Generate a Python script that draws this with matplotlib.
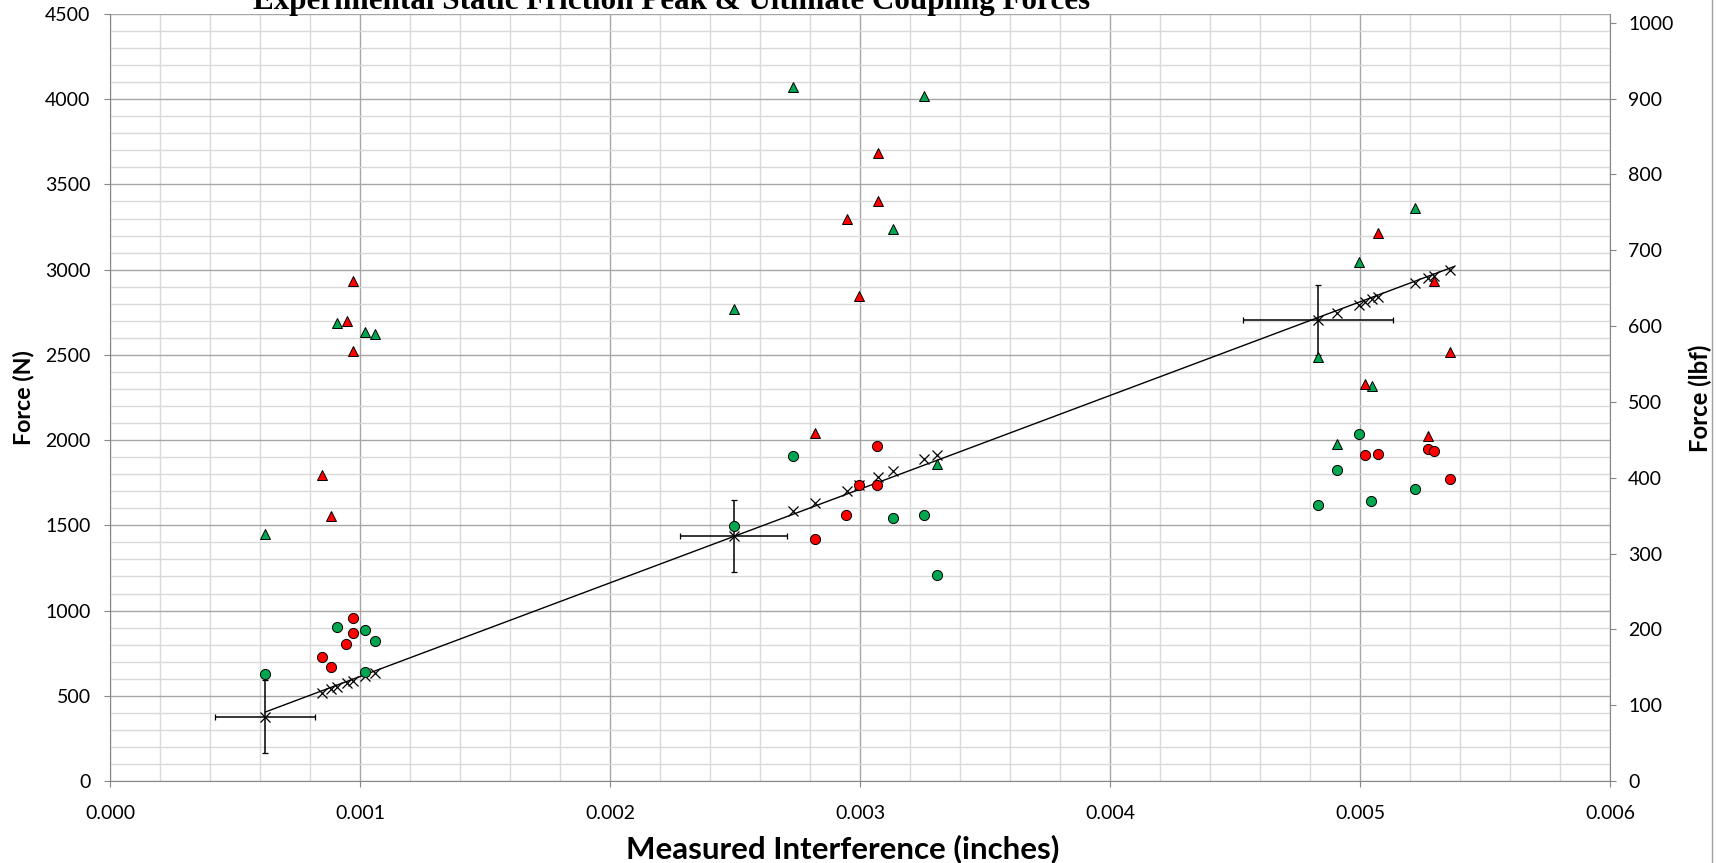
import matplotlib
matplotlib.use("Agg")
import matplotlib.pyplot as plt
import numpy as np
from matplotlib.ticker import MultipleLocator, FormatStrFormatter
from matplotlib.lines import Line2D

# Peak friction (triangles) and ultimate coupling (circles), two test series
green_tri_x = [0.000621, 0.000908, 0.001021, 0.001059,
               0.002495, 0.002733, 0.003132, 0.003257, 0.003307,
               0.004833, 0.004908, 0.004995, 0.005047, 0.005219]
green_tri_y = [1450, 2686, 2637, 2623,
               2770, 4074, 3239, 4016, 1859,
               2488, 1976, 3044, 2318, 3359]

red_tri_x = [0.000848, 0.000884, 0.000947, 0.000971, 0.000971,
             0.002821, 0.002947, 0.002997, 0.003071, 0.003071,
             0.005021, 0.005072, 0.005272, 0.005297, 0.005359]
red_tri_y = [1796, 1557, 2700, 2936, 2523,
             2044, 3297, 2848, 3687, 3404,
             2330, 3214, 2023, 2936, 2518]

green_circ_x = [0.000621, 0.000908, 0.001021, 0.001059, 0.001021,
                0.002495, 0.002733, 0.003132, 0.003257, 0.003307,
                0.004833, 0.004909, 0.004996, 0.005045, 0.005220]
green_circ_y = [626, 902, 886, 822, 641,
                1494, 1904, 1545, 1560, 1209,
                1618, 1827, 2036, 1641, 1712]

red_circ_x = [0.000847, 0.000884, 0.000944, 0.000971, 0.000971,
              0.002821, 0.002944, 0.002997, 0.003069, 0.003069,
              0.005021, 0.005072, 0.005272, 0.005297, 0.005359]
red_circ_y = [728, 671, 806, 958, 868,
              1420, 1560, 1735, 1966, 1735,
              1911, 1917, 1950, 1937, 1774]

# predicted force at each interference (x markers on the fit line)
pred_x = [0.000848, 0.000884, 0.000908, 0.000947, 0.000971, 0.001021, 0.001059,
          0.002733, 0.002821, 0.002947, 0.002997, 0.003071, 0.003132, 0.003257, 0.003307,
          0.004908, 0.004995, 0.005021, 0.005047, 0.005072, 0.005219, 0.005272, 0.005297, 0.005359]
pred_y = [515, 538, 550, 573, 587, 616, 636,
          1587, 1632, 1704, 1735, 1786, 1817, 1889, 1910,
          2748, 2793, 2809, 2827, 2842, 2921, 2954, 2964, 2999]

# group means with error bars
mean_x = [0.000621, 0.002495, 0.004833]
mean_y = [377, 1436, 2705]
mean_xerr = [0.0002, 0.000214, 0.0003]
mean_yerr = [215, 210, 205]

N_PER_LBF = 4.448

green = "#00A650"
red = "#FF0000"
grid_major = "#a6a6a6"
grid_minor = "#d9d9d9"
tick_font = "Lato"

fig = plt.figure(figsize=(17.16, 8.63), dpi=100)
ax = fig.add_axes([110 / 1716, 1 - 781 / 863, 1500 / 1716, 767 / 863])

ax.set_xlim(0, 0.006)
ax.set_ylim(0, 4500)
ax.xaxis.set_major_locator(MultipleLocator(0.001))
ax.xaxis.set_minor_locator(MultipleLocator(0.0002))
ax.xaxis.set_major_formatter(FormatStrFormatter("%.3f"))
ax.yaxis.set_major_locator(MultipleLocator(500))
ax.yaxis.set_minor_locator(MultipleLocator(100))
ax.grid(which="major", color=grid_major, lw=1)
ax.grid(which="minor", color=grid_minor, lw=1)
ax.set_axisbelow(True)

# fit line through the predicted values
all_px = mean_x + pred_x
all_py = mean_y + pred_y
k, b = np.polyfit(all_px, all_py, 1)
xl = np.array([min(all_px), max(all_px) + 0.000015])
ax.plot(xl, k * xl + b, color="black", lw=1, zorder=2)

ax.errorbar(mean_x, mean_y, xerr=mean_xerr, yerr=mean_yerr, fmt="x", color="black",
            ms=7, mew=0.9, elinewidth=1.1, capsize=2.5, capthick=1, zorder=3)
ax.plot(pred_x, pred_y, "x", color="black", ms=6.5, mew=0.9, zorder=3)

ax.plot(green_tri_x, green_tri_y, "^", color=green, mec="black", mew=0.7, ms=7, ls="none", zorder=4)
ax.plot(red_tri_x, red_tri_y, "^", color=red, mec="black", mew=0.7, ms=7, ls="none", zorder=4)
ax.plot(green_circ_x, green_circ_y, "o", color=green, mec="black", mew=0.7, ms=7.3, ls="none", zorder=4)
ax.plot(red_circ_x, red_circ_y, "o", color=red, mec="black", mew=0.7, ms=7.3, ls="none", zorder=4)

for s in ["top", "right"]:
    ax.spines[s].set_visible(False)
for s in ["left", "bottom"]:
    ax.spines[s].set_color("#868686")
ax.tick_params(which="major", axis="y", direction="out", length=4, color="#868686",
               labelsize=14, pad=10)
ax.tick_params(which="major", axis="x", direction="out", length=4, color="#868686",
               labelsize=14, pad=13)
ax.tick_params(which="minor", length=0)
for lab in ax.get_xticklabels() + ax.get_yticklabels():
    lab.set_fontfamily(tick_font)

ax2 = ax.twinx()
ax2.set_ylim(0, 4500 / N_PER_LBF)
ax2.yaxis.set_major_locator(MultipleLocator(100))
for s in ["top", "left", "bottom"]:
    ax2.spines[s].set_visible(False)
ax2.spines["right"].set_color("#868686")
ax2.tick_params(axis="y", direction="out", length=4, color="#868686", labelsize=14, pad=9)
for lab in ax2.get_yticklabels():
    lab.set_fontfamily(tick_font)

title = fig.text(672 / 1716, 1 - 9 / 863, "Experimental Static Friction Peak & Ultimate Coupling Forces",
                 ha="center", va="baseline", fontsize=20, fontweight="bold", family="Liberation Serif")
xlab = fig.text(843 / 1716, 1 - 849 / 863, "Measured Interference (inches)", ha="center", va="center",
                fontsize=19, fontweight="bold", family=tick_font)
ylab = fig.text(24 / 1716, 1 - 398 / 863, "Force (N)", ha="center", va="center", rotation=90,
                fontsize=14, fontweight="bold", family=tick_font)
ylab2 = fig.text(1700 / 1716, 1 - 398 / 863, "Force (lbf)", ha="center", va="center", rotation=90,
                 fontsize=14, fontweight="bold", family=tick_font)

# scale the labels to the sizes measured on the reference (pixels)
renderer = fig.canvas.get_renderer()
for t, target, along in [(title, 838, "w"), (xlab, 432, "w"), (ylab, 95, "h"), (ylab2, 108, "h")]:
    bb = t.get_window_extent(renderer)
    size = bb.width if along == "w" else bb.height
    t.set_fontsize(t.get_fontsize() * target / size)

fig.add_artist(Line2D([1712 / 1716, 1712 / 1716], [0, 1], color="#a0a0a0", lw=1))

fig.savefig("out.png", dpi=100)
